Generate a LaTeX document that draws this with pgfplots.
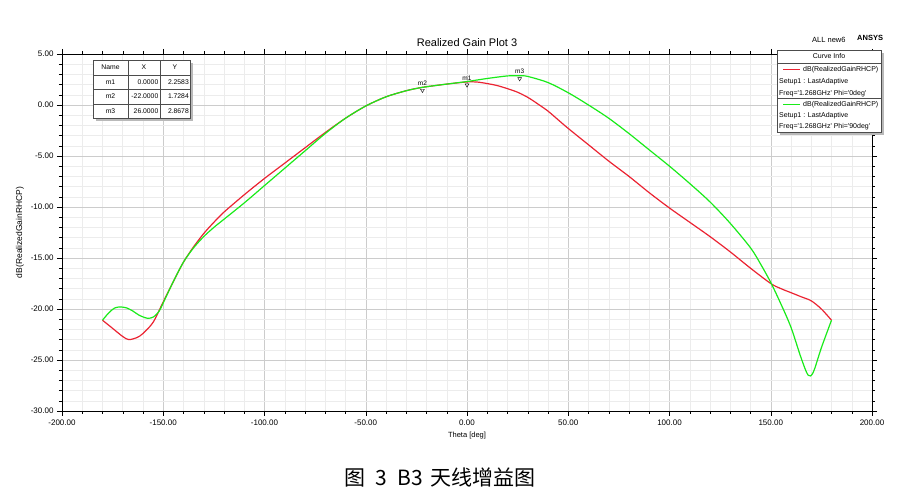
\documentclass[border=0pt]{standalone}
\usepackage{pgfplots}
\pgfplotsset{compat=1.18}
\usepackage{fontspec}
\setmainfont{Liberation Sans}
\newfontfamily\ans{Liberation Sans}
\newfontfamily\cjk{Noto Sans CJK SC}
\definecolor{cred}{RGB}{235,35,50}
\definecolor{cgreen}{RGB}{25,235,25}
\begin{document}
\begin{tikzpicture}[x=1pt,y=1pt]
\useasboundingbox (0pt,0pt) rectangle (916pt,497pt);
\begin{axis}[at={(62pt,86pt)}, anchor=south west, width=810pt, height=357pt, scale only axis,
  xmin=-200, xmax=200, ymin=-30, ymax=5,
  xtick distance=50, ytick distance=5, minor x tick num=4, minor y tick num=4,
  grid=both, major grid style={gray!40, line width=0.5pt}, minor grid style={gray!15, line width=0.5pt},
  tick align=outside, major tick length=5pt, minor tick length=3pt,
  tick style={black, line width=0.4pt},
  axis line style={black, line width=0.6pt},
  /pgf/number format/assume math mode=true,
  /pgf/number format/.cd, fixed, fixed zerofill, precision=2, /pgfplots/.cd,
  tick label style={font=\fontsize{8}{8.5}\selectfont},
  xlabel={Theta [deg]}, ylabel={dB(RealizedGainRHCP)},
  xlabel style={font=\fontsize{7.5}{8}\selectfont},
  ylabel style={font=\fontsize{8.5}{9}\selectfont},
  title={Realized Gain Plot 3}, title style={font=\fontsize{11}{12}\selectfont, yshift=-2pt},
]
\addplot[cred, line width=1.2pt, smooth, tension=0.5] coordinates {
(-180,-21.1) (-175,-21.9) (-170,-22.7) (-167,-23.0) (-163,-22.8) (-160,-22.4) (-155,-21.3)
(-150,-19.3) (-145,-17.3) (-140,-15.4) (-135,-13.9) (-130,-12.6) (-125,-11.5) (-120,-10.5)
(-110,-8.8) (-100,-7.2) (-90,-5.7) (-80,-4.2) (-70,-2.7) (-60,-1.3) (-50,-0.1) (-40,0.8)
(-30,1.4) (-22,1.73) (-10,2.05) (0,2.26) (5,2.25) (10,2.1) (15,1.9) (20,1.6) (25,1.25)
(30,0.75) (35,0.1) (40,-0.6) (45,-1.45) (50,-2.3) (60,-3.9) (70,-5.5) (80,-7.0) (90,-8.6) (100,-10.1)
(110,-11.5) (120,-12.9) (130,-14.4) (140,-16.0) (150,-17.5) (155,-18.0) (160,-18.4)
(165,-18.8) (170,-19.2) (175,-20.0) (180,-21.1)};
\addplot[cgreen, line width=1.2pt, smooth, tension=0.5] coordinates {
(-180,-21.1) (-177,-20.4) (-174,-19.9) (-171,-19.8) (-168,-19.9) (-165,-20.2) (-162,-20.6)
(-158,-20.9) (-155,-20.8) (-152,-20.2) (-150,-19.4) (-145,-17.3) (-140,-15.4) (-135,-14.0)
(-130,-12.9) (-125,-12.0) (-120,-11.2) (-110,-9.6) (-100,-7.9) (-90,-6.2) (-80,-4.5)
(-70,-2.8) (-60,-1.3) (-50,-0.1) (-40,0.8) (-30,1.4) (-22,1.73) (-10,2.05) (0,2.3)
(10,2.6) (20,2.85) (26,2.87) (30,2.8) (40,2.2) (50,1.2) (60,0) (70,-1.3) (80,-2.8)
(90,-4.4) (100,-6.0) (110,-7.7) (120,-9.5) (130,-11.6) (140,-14.0) (145,-15.6)
(150,-17.4) (155,-19.5) (160,-21.8) (165,-24.8) (168.5,-26.5) (171,-26.2) (175,-23.8) (180,-21.1)};
\addplot[only marks, mark=triangle, mark size=2.2pt, mark options={rotate=180, black, yshift=3pt, line width=0.4pt},
  point meta=explicit symbolic, nodes near coords,
  nodes near coords style={font=\fontsize{6.5}{7}\selectfont, anchor=south, yshift=4pt, inner sep=0.5pt}]
  coordinates {(0,2.2583) [m1] (-22,1.7284) [m2] (26,2.8678) [m3]};
\end{axis}
% marker table
\fill[gray!55] (96pt,376pt) rectangle (193pt,434pt);
\fill[white] (93pt,379pt) rectangle (190pt,437pt);
\draw[gray!60!black, line width=0.4pt] (93pt,379pt) rectangle (190pt,437pt);
\foreach \yy in {422,408,393} {\draw[gray!60!black, line width=0.3pt] (93pt,\yy pt) -- (190pt,\yy pt);}
\foreach \xx in {128,160} {\draw[gray!60!black, line width=0.3pt] (\xx pt,379pt) -- (\xx pt,437pt);}
\begin{scope}[every node/.style={font=\ans\fontsize{6.8}{7}\selectfont, inner sep=0pt}]
\node at (110.5pt,429.5pt) {Name}; \node at (144pt,429.5pt) {X}; \node at (175pt,429.5pt) {Y};
\node at (110.5pt,415pt) {m1}; \node[anchor=east] at (158.5pt,415pt) {0.0000}; \node[anchor=east] at (189pt,415pt) {2.2583};
\node at (110.5pt,400.5pt) {m2}; \node[anchor=east] at (158.5pt,400.5pt) {-22.0000}; \node[anchor=east] at (189pt,400.5pt) {1.7284};
\node at (110.5pt,386pt) {m3}; \node[anchor=east] at (158.5pt,386pt) {26.0000}; \node[anchor=east] at (189pt,386pt) {2.8678};
\end{scope}
% legend
\fill[gray!55] (780pt,362pt) rectangle (884pt,444pt);
\fill[white] (777pt,365pt) rectangle (881pt,447pt);
\draw[gray!60!black, line width=0.4pt] (777pt,365pt) rectangle (881pt,447pt);
\draw[gray!60!black, line width=0.3pt] (777pt,434pt) -- (881pt,434pt);
\draw[gray!60!black, line width=0.3pt] (777pt,399pt) -- (881pt,399pt);
\begin{scope}[every node/.style={font=\ans\fontsize{7}{7.5}\selectfont, inner sep=0pt}]
\node at (829pt,441pt) {Curve Info};
\draw[cred, line width=1pt] (783pt,427pt) -- (800pt,427pt);
\node[anchor=west] at (803pt,427pt) {dB(RealizedGainRHCP)};
\node[anchor=west] at (779pt,415pt) {Setup1 : LastAdaptive};
\node[anchor=west] at (779pt,403pt) {Freq='1.268GHz' Phi='0deg'};
\draw[cgreen, line width=1pt] (783pt,392pt) -- (800pt,392pt);
\node[anchor=west] at (803pt,392pt) {dB(RealizedGainRHCP)};
\node[anchor=west] at (779pt,381pt) {Setup1 : LastAdaptive};
\node[anchor=west] at (779pt,370pt) {Freq='1.268GHz' Phi='90deg'};
\end{scope}
\node[anchor=west, inner sep=0pt, font=\ans\fontsize{7.5}{8}\selectfont] at (812pt,457pt) {ALL new6};
\node[anchor=west, inner sep=0pt, font=\ans\bfseries\fontsize{7.5}{8}\selectfont] at (857pt,459pt) {ANSYS};
\node[font=\cjk\fontsize{21}{22}\selectfont] at (440pt,19pt) {图\hspace{10pt}3\hspace{10pt}B3\hspace{7pt}天线增益图};
\end{tikzpicture}
\end{document}
